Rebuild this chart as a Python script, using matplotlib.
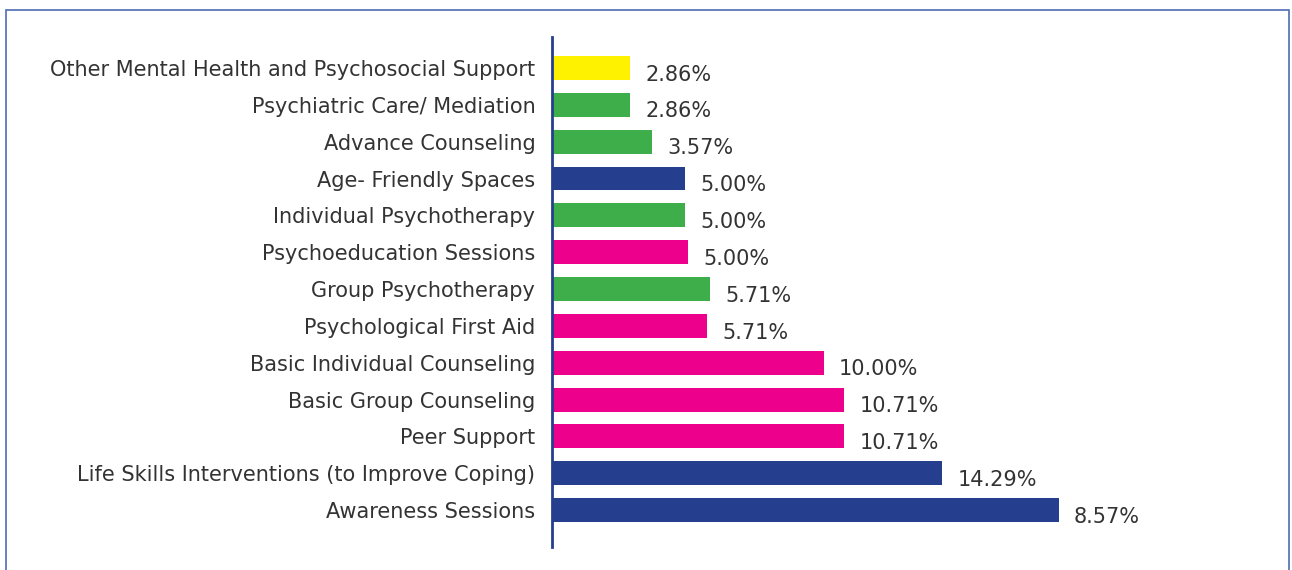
import matplotlib.pyplot as plt
from matplotlib.patches import Rectangle

# categories listed bottom -> top
categories = [
    "Awareness Sessions",
    "Life Skills Interventions (to Improve Coping)",
    "Peer Support",
    "Basic Group Counseling",
    "Basic Individual Counseling",
    "Psychological First Aid",
    "Group Psychotherapy",
    "Psychoeducation Sessions",
    "Individual Psychotherapy",
    "Age- Friendly Spaces",
    "Advance Counseling",
    "Psychiatric Care/ Mediation",
    "Other Mental Health and Psychosocial Support",
]
# bar lengths as drawn (the last label in the source reads 8.57% on an ~18.57 bar)
values = [18.57, 14.29, 10.71, 10.71, 9.95, 5.68, 5.79, 4.98, 4.87, 4.87, 3.66, 2.86, 2.86]
value_labels = ["8.57%", "14.29%", "10.71%", "10.71%", "10.00%", "5.71%", "5.71%",
                "5.00%", "5.00%", "5.00%", "3.57%", "2.86%", "2.86%"]
groups = ["navy", "navy", "pink", "pink", "pink", "pink", "green", "pink",
          "green", "navy", "green", "green", "yellow"]

palette = {"navy": "#253F8E", "pink": "#EC008C", "green": "#3DAE49", "yellow": "#FFF200"}
colors = [palette[g] for g in groups]

plt.rcParams["font.family"] = ["DejaVu Sans"]

fig = plt.figure(figsize=(12.92, 5.70), dpi=100)
ax = fig.add_axes([552 / 1292, 23 / 570, 740 / 1292, 510 / 570])

ypos = list(range(len(categories)))
ax.barh(ypos, values, height=0.65, color=colors)

for y, v, lab in zip(ypos, values, value_labels):
    ax.text(v + 0.55, y - 0.18, lab, va="center", ha="left", fontsize=15,
            color="#333333", clip_on=False)

ax.set_xlim(0, 27.1)
ax.set_ylim(-1.0, 12.84)
ax.set_yticks(ypos)
ax.set_yticklabels(categories, fontsize=15, color="#333333")
ax.tick_params(axis="y", length=0, pad=12)
ax.set_xticks([])

for side in ["top", "right", "bottom"]:
    ax.spines[side].set_visible(False)
ax.spines["left"].set_color("#253F8E")
ax.spines["left"].set_linewidth(2)

# outer frame
frame = Rectangle((6 / 1292, -0.05), 1283 / 1292, (560 / 570) + 0.05,
                  transform=fig.transFigure, fill=False, edgecolor="#4F6BB5",
                  linewidth=1.2, clip_on=False)
fig.add_artist(frame)

fig.savefig("out.png", dpi=100)
